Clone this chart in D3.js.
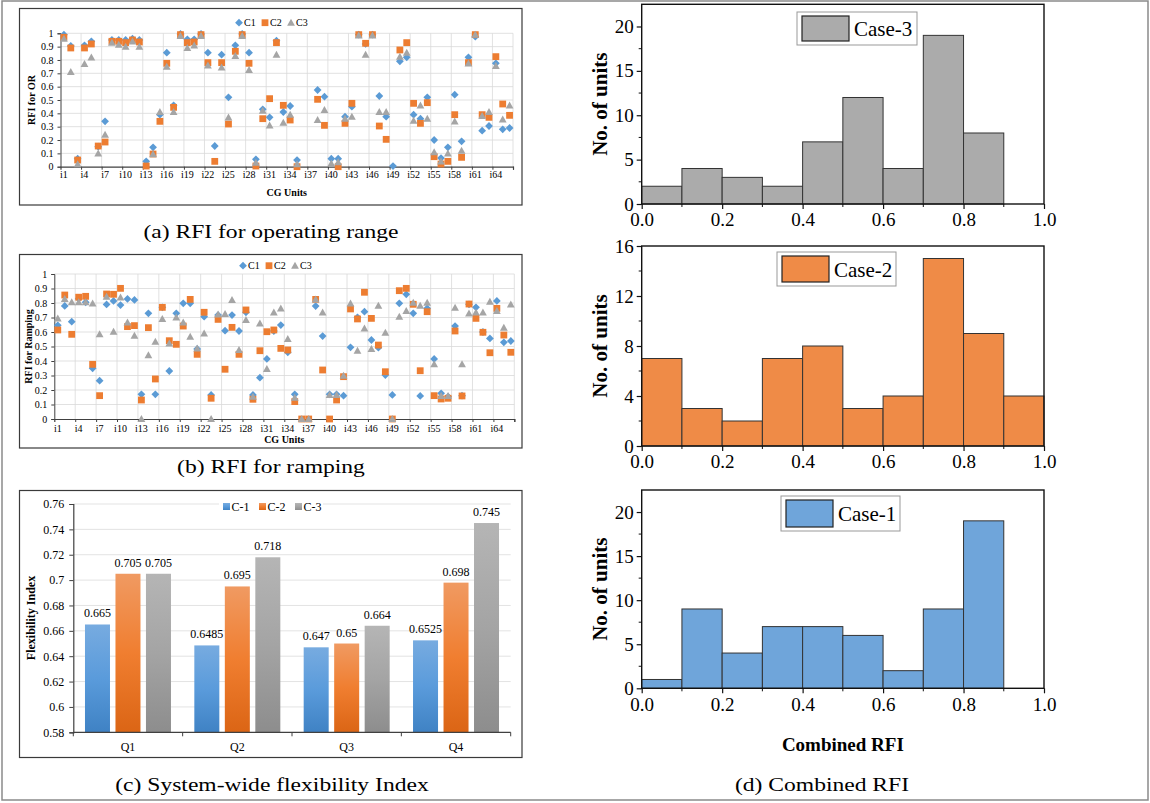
<!DOCTYPE html>
<html>
<head>
<meta charset="UTF-8">
<script src="https://d3js.org/d3.v7.min.js"></script>
<style>
    body { margin: 0; background: #fff; }
    text { font-family: "Liberation Serif", "Times New Roman", serif; fill: #000; }
</style>
</head>
<body>
<svg id="chart" width="1150" height="803"></svg>
<script>
// ---------- data ----------
const units = d3.range(1, 67).map(i => "i" + i);

// (a) RFI for operating range
const orC1 = [0.99,0.905,0.06,0.91,0.94,0.15,0.34,0.95,0.95,0.95,0.96,0.95,0.04,0.145,0.39,0.855,0.46,0.995,0.955,0.955,
    0.995,0.855,0.155,0.84,0.52,0.91,0.995,0.855,0.055,0.43,0.37,0.945,0.41,0.455,0.05,null,null,0.575,0.525,0.06,
    0.06,0.375,0.45,0.99,0.92,0.99,0.53,0.375,0.005,0.79,0.82,0.39,0.36,0.52,0.2,0.065,0.145,0.54,0.19,0.82,
    0.975,0.27,0.305,0.775,0.28,0.29];
const orC2 = [0.97,0.89,0.05,0.89,0.92,0.155,0.185,0.94,0.94,0.93,0.95,0.935,0.005,0.095,0.34,0.775,0.445,0.99,0.93,0.935,
    0.99,0.78,0.04,0.78,0.32,0.865,0.99,0.775,0.005,0.36,0.51,0.93,0.46,0.35,0.0,null,null,0.505,0.31,null,
    0.0,0.325,0.475,0.99,0.925,0.99,0.305,0.205,null,0.875,0.93,0.475,0.325,0.48,0.075,0.02,0.04,0.39,0.07,0.78,
    0.99,0.39,0.37,0.825,0.47,0.385];
const orC3 = [0.96,0.71,0.02,0.77,0.82,0.10,0.24,0.93,0.915,0.90,0.94,0.90,null,0.095,0.41,0.75,0.41,0.98,0.89,0.91,
    0.98,0.76,null,0.745,0.37,0.83,0.98,0.725,0.03,0.42,0.31,0.84,0.33,0.39,0.02,null,null,0.35,0.425,0.025,
    0.035,0.36,0.375,0.985,0.84,0.985,0.41,0.41,null,0.825,0.855,0.345,0.46,0.36,0.11,0.04,0.10,0.34,0.12,0.775,
    0.99,0.38,0.41,0.755,0.355,0.46];

// (b) RFI for ramping
const rpC1 = [0.646,0.78,0.671,0.83,0.805,0.35,0.264,0.79,0.814,0.786,0.828,0.821,0.17,0.729,0.17,0.77,0.331,0.729,0.798,0.798,
    0.483,0.706,0.166,0.717,0.609,0.717,0.607,0.736,0.166,0.285,0.414,0.607,0.648,0.46,0.17,null,null,0.779,0.572,0.17,
    0.17,0.161,0.494,0.701,0.74,0.545,0.492,0.303,0.166,0.798,0.86,0.729,0.159,0.763,0.414,0.177,0.154,0.641,0.161,0.791,
    0.77,0.6,0.556,0.814,0.529,0.538];
const rpC2 = [0.614,0.855,0.584,0.84,0.846,0.377,0.161,0.862,0.86,0.901,0.637,0.644,0.131,0.63,0.276,0.77,0.54,0.515,0.641,0.825,
    0.446,0.736,0.143,0.687,0.343,0.632,0.446,0.752,0.136,0.471,0.602,0.614,0.487,0.476,0.12,0,0,0.825,0.338,0,
    0.131,0.292,0.759,0.69,0.874,0.694,0.51,0.326,0,0.885,0.901,0.791,0.333,0.74,0.161,0.138,0.143,0.607,0.159,0.793,
    0.694,0.598,0.457,0.763,0.579,0.46];
const rpC3 = [0.694,0.828,0.805,0.805,0.805,0.798,0.586,0.844,0.602,0.839,0.667,0.575,0,0.441,0.533,0.69,0.522,0.701,0.667,0.568,
    0.487,0.591,0,0.722,0.724,0.821,0.476,0.683,0.154,0.66,0.345,0.736,0.763,0.552,0.147,0,0,0.825,0.736,0.166,
    0.166,0.299,0.798,0.471,0.625,0.483,0.782,0.595,0,0.706,0.745,0.802,0.782,0.802,0.379,0.159,0.159,0.768,0.379,0.729,
    0.736,0.736,0.809,0.745,0.63,0.791];

// (c) system-wide flexibility index
const quarters = ["Q1", "Q2", "Q3", "Q4"];
const fiCases = ["C-1", "C-2", "C-3"];
const fiC1 = [0.665, 0.6485, 0.647, 0.6525];
const fiC2 = [0.705, 0.695, 0.65, 0.698];
const fiC3 = [0.705, 0.718, 0.664, 0.745];
const fiTicks = [0.58, 0.6, 0.62, 0.64, 0.66, 0.68, 0.7, 0.72, 0.74, 0.76];

// (d) combined RFI histograms
const binEdges = [0, 0.1, 0.2, 0.3, 0.4, 0.5, 0.6, 0.7, 0.8, 0.9, 1.0];
const case3Counts = [2, 4, 3, 2, 7, 12, 4, 19, 8, 0];
const case2Counts = [7, 3, 2, 7, 8, 3, 4, 15, 9, 4];
const case1Counts = [1, 9, 4, 7, 7, 6, 2, 9, 19, 0];
const histXTicks = [0, 0.2, 0.4, 0.6, 0.8, 1.0];

const blue = "#5b9bd5", orange = "#ed7d31", gray = "#a5a5a5";

const svg = d3.select("#chart");
const defs = svg.append("defs");

// outer border of figure
svg.append("rect").attr("x", 2).attr("y", 1).attr("width", 1146).attr("height", 799)
    .attr("fill", "none").attr("stroke", "#8a8a8a").attr("stroke-width", 1.5);

// ---------- scatter panels (a) and (b) ----------
function markerPath(kind) {
    if (kind === "diamond") return "M0,-3.9L3.9,0L0,3.9L-3.9,0Z";
    if (kind === "square") return "M-3.4,-3.4H3.4V3.4H-3.4Z";
    return "M0,-3.9L3.9,3.1L-3.9,3.1Z";
}

function scatterPanel(cfg) {
    const g = svg.append("g");
    g.append("rect").attr("x", cfg.frame[0]).attr("y", cfg.frame[1])
        .attr("width", cfg.frame[2] - cfg.frame[0]).attr("height", cfg.frame[3] - cfg.frame[1])
        .attr("fill", "#fff").attr("stroke", "#3a3a3a").attr("stroke-width", 1.2);

    const x = d3.scaleLinear().domain([0.5, units.length + 0.5]).range([cfg.left, cfg.right]);
    const y = d3.scaleLinear().domain([0, 1]).range([cfg.bottom, cfg.top]);
    const yTicks = d3.range(11).map(i => i / 10);
    const gridX = d3.range(3.5, units.length + 0.6, 3);

    // gridlines
    g.append("g").selectAll("line").data(yTicks.slice(1)).join("line")
        .attr("x1", cfg.left).attr("x2", cfg.right)
        .attr("y1", d => y(d)).attr("y2", d => y(d))
        .attr("stroke", "#d9d9d9").attr("stroke-width", 0.8);
    g.append("g").selectAll("line").data(gridX).join("line")
        .attr("x1", d => x(d)).attr("x2", d => x(d))
        .attr("y1", cfg.top).attr("y2", cfg.bottom)
        .attr("stroke", "#d9d9d9").attr("stroke-width", 0.8);

    // y axis
    const ya = g.append("g").attr("transform", `translate(${cfg.left},0)`)
        .call(d3.axisLeft(y).tickValues(yTicks).tickSize(3).tickPadding(4).tickFormat(d3.format(".1~f")));
    ya.select(".domain").attr("stroke", "#404040");
    ya.selectAll("line").attr("stroke", "#404040");
    ya.selectAll("text").style("font-size", "10px").style("font-family", "Liberation Serif");

    // x axis (ticks on group boundaries, labels every 3rd unit)
    const xa = g.append("g").attr("transform", `translate(0,${cfg.bottom})`)
        .call(d3.axisBottom(x).tickValues(gridX).tickSize(3).tickFormat(""));
    xa.select(".domain").attr("stroke", "#404040").attr("stroke-width", 1.2);
    xa.selectAll("line").attr("stroke", "#404040");
    g.append("g").selectAll("text").data(d3.range(1, units.length + 1, 3)).join("text")
        .attr("x", d => x(d)).attr("y", cfg.bottom + cfg.tickLabOff)
        .attr("text-anchor", "middle").style("font-size", "10px")
        .text(d => units[d - 1]);

    // markers
    const series = [
        { name: "C1", vals: cfg.s1, color: blue, kind: "diamond" },
        { name: "C2", vals: cfg.s2, color: orange, kind: "square" },
        { name: "C3", vals: cfg.s3, color: gray, kind: "triangle" }
    ];
    series.forEach(s => {
        g.append("g").selectAll("path")
            .data(s.vals.map((v, i) => ({ i: i + 1, v })).filter(d => d.v !== null))
            .join("path")
            .attr("d", markerPath(s.kind))
            .attr("transform", d => `translate(${x(d.i)},${y(d.v)})`)
            .attr("fill", s.color);
    });

    // legend
    const lg = g.append("g").attr("transform", `translate(${cfg.legendX},${cfg.legendY})`);
    series.forEach((s, k) => {
        const it = lg.append("g").attr("transform", `translate(${k * 26},0)`);
        it.append("path").attr("d", markerPath(s.kind)).attr("fill", s.color);
        it.append("text").attr("x", 5).attr("y", 3.5).style("font-size", "10px").text(s.name);
    });

    // axis titles
    g.append("text")
        .attr("transform", `translate(${cfg.ylabX},${(cfg.top + cfg.bottom) / 2}) rotate(-90)`)
        .attr("text-anchor", "middle").style("font-size", "10px").style("font-weight", "bold")
        .text(cfg.ylabel);
    g.append("text").attr("x", (cfg.left + cfg.right) / 2).attr("y", cfg.bottom + cfg.titleOff)
        .attr("text-anchor", "middle").style("font-size", "10px").style("font-weight", "bold")
        .text("CG Units");
}

scatterPanel({
    frame: [19.5, 8.5, 522, 205], left: 60.5, right: 513, top: 33.3, bottom: 166.7,
    s1: orC1, s2: orC2, s3: orC3, legendX: 239, legendY: 22.7, ylabX: 35, ylabel: "RFI for OR",
    tickLabOff: 11.5, titleOff: 29
});
scatterPanel({
    frame: [19.5, 254.5, 522, 448], left: 54.3, right: 514.3, top: 274, bottom: 419,
    s1: rpC1, s2: rpC2, s3: rpC3, legendX: 243, legendY: 265.7, ylabX: 32, ylabel: "RFI for Ramping",
    tickLabOff: 12.5, titleOff: 23.5
});

// ---------- panel (c) grouped bars ----------
function grad(id, c0, c1, c2) {
    const lgd = defs.append("linearGradient").attr("id", id)
        .attr("x1", 0).attr("y1", 0).attr("x2", 0).attr("y2", 1);
    lgd.append("stop").attr("offset", "0%").attr("stop-color", c0);
    lgd.append("stop").attr("offset", "50%").attr("stop-color", c1);
    lgd.append("stop").attr("offset", "100%").attr("stop-color", c2);
}
grad("gBlue", "#77abe0", "#5a9bdb", "#3f82c4");
grad("gOrange", "#f09a62", "#f07e30", "#db6515");
grad("gGray", "#b5b5b5", "#a4a4a4", "#8d8d8d");
const fiFill = { "C-1": "url(#gBlue)", "C-2": "url(#gOrange)", "C-3": "url(#gGray)" };

(function () {
    const g = svg.append("g");
    g.append("rect").attr("x", 19.5).attr("y", 490.5).attr("width", 502.5).attr("height", 267)
        .attr("fill", "#fff").attr("stroke", "#3a3a3a").attr("stroke-width", 1.2);

    const left = 73.3, right = 510.7;
    const y = d3.scaleLinear().domain([0.58, 0.76]).range([732.3, 504]);
    const x0 = d3.scaleBand().domain(quarters).range([left, right]).paddingInner(0.2136).paddingOuter(0.1068);
    const x1 = d3.scaleBand().domain(fiCases).range([0, x0.bandwidth()]).paddingInner(0.18);

    g.append("g").selectAll("line").data(fiTicks.slice(1)).join("line")
        .attr("x1", left).attr("x2", right).attr("y1", d => y(d)).attr("y2", d => y(d))
        .attr("stroke", "#e3e3e3").attr("stroke-width", 1);

    const ya = g.append("g").attr("transform", `translate(${left},0)`)
        .call(d3.axisLeft(y).tickValues(fiTicks).tickSize(4).tickPadding(5).tickFormat(d3.format(".2~f")));
    ya.select(".domain").attr("stroke", "#404040").attr("stroke-width", 1.2);
    ya.selectAll("line").attr("stroke", "#404040");
    ya.selectAll("text").style("font-size", "12px").style("font-family", "Liberation Serif");

    const rows = quarters.map((q, i) => ({ q, vals: [fiC1[i], fiC2[i], fiC3[i]] }));
    const grp = g.append("g").selectAll("g").data(rows).join("g")
        .attr("transform", d => `translate(${x0(d.q)},0)`);
    grp.selectAll("rect").data(d => d.vals.map((v, k) => ({ c: fiCases[k], v }))).join("rect")
        .attr("x", d => x1(d.c)).attr("width", x1.bandwidth())
        .attr("y", d => y(d.v)).attr("height", d => y(0.58) - y(d.v))
        .attr("fill", d => fiFill[d.c]);
    grp.selectAll("text").data(d => d.vals.map((v, k) => ({ c: fiCases[k], v }))).join("text")
        .attr("x", d => x1(d.c) + x1.bandwidth() / 2).attr("y", d => y(d.v) - 7)
        .attr("text-anchor", "middle").style("font-size", "12px")
        .text(d => String(d.v));

    // x axis with boundary ticks
    const xa = g.append("g").attr("transform", `translate(0,${y(0.58)})`);
    xa.append("line").attr("x1", left).attr("x2", right).attr("stroke", "#404040").attr("stroke-width", 1.2);
    const bounds = quarters.map(q => x0(q) - x0.step() * x0.paddingInner() / 2).concat([right]);
    bounds[0] = left;
    xa.selectAll("line.tk").data(bounds).join("line").attr("class", "tk")
        .attr("x1", d => d).attr("x2", d => d).attr("y1", 0).attr("y2", 4).attr("stroke", "#404040");
    xa.selectAll("text").data(quarters).join("text")
        .attr("x", d => x0(d) + x0.bandwidth() / 2).attr("y", 19)
        .attr("text-anchor", "middle").style("font-size", "12px").text(d => d);

    // legend
    const lg = g.append("g").attr("transform", "translate(221,500)");
    lg.append("rect").attr("x", -2).attr("y", 0).attr("width", 104).attr("height", 14).attr("fill", "#fff");
    fiCases.forEach((c, k) => {
        const it = lg.append("g").attr("transform", `translate(${k * 36},0)`);
        it.append("rect").attr("x", 2).attr("y", 3).attr("width", 7).attr("height", 7).attr("fill", fiFill[c]);
        it.append("text").attr("x", 10.5).attr("y", 11).style("font-size", "12px").text(c);
    });

    g.append("text").attr("transform", `translate(35,618) rotate(-90)`)
        .attr("text-anchor", "middle").style("font-size", "12px").style("font-weight", "bold")
        .text("Flexibility Index");
})();

// ---------- panel (d) histograms ----------
const hx = d3.scaleLinear().domain([0, 1]).range([641.7, 1044]);

function histPanel(cfg) {
    const g = svg.append("g");
    const y = d3.scaleLinear().domain([0, cfg.yMax]).range([cfg.bottom, cfg.top]);

    g.append("g").selectAll("rect")
        .data(cfg.counts.map((c, i) => ({ x0: binEdges[i], x1: binEdges[i + 1], c })).filter(d => d.c > 0))
        .join("rect")
        .attr("x", d => hx(d.x0)).attr("width", d => hx(d.x1) - hx(d.x0))
        .attr("y", d => y(d.c)).attr("height", d => y(0) - y(d.c))
        .attr("fill", cfg.color).attr("stroke", "#333").attr("stroke-width", 1);

    // frame
    g.append("rect").attr("x", hx(0)).attr("y", cfg.top).attr("width", hx(1) - hx(0))
        .attr("height", cfg.bottom - cfg.top).attr("fill", "none").attr("stroke", "#111").attr("stroke-width", 1.4);

    // y axis major + minor
    const ya = g.append("g").attr("transform", `translate(${hx(0)},0)`)
        .call(d3.axisLeft(y).tickValues(cfg.yMajor).tickSize(5).tickPadding(3));
    ya.select(".domain").remove();
    ya.selectAll("line").attr("stroke", "#111").attr("stroke-width", 1.2);
    ya.selectAll("text").style("font-size", "19px").style("font-family", "Liberation Serif");
    g.append("g").selectAll("line").data(cfg.yMinor).join("line")
        .attr("x1", hx(0) - 3).attr("x2", hx(0)).attr("y1", d => y(d)).attr("y2", d => y(d))
        .attr("stroke", "#111");

    // x axis
    const xa = g.append("g").attr("transform", `translate(0,${cfg.bottom})`)
        .call(d3.axisBottom(hx).tickValues(histXTicks).tickSize(5).tickPadding(4).tickFormat(d3.format(".1f")));
    xa.select(".domain").remove();
    xa.selectAll("line").attr("stroke", "#111").attr("stroke-width", 1.2);
    xa.selectAll("text").style("font-size", "19px").style("font-family", "Liberation Serif");
    g.append("g").selectAll("line").data([0.1, 0.3, 0.5, 0.7, 0.9]).join("line")
        .attr("x1", d => hx(d)).attr("x2", d => hx(d)).attr("y1", cfg.bottom).attr("y2", cfg.bottom + 3)
        .attr("stroke", "#111");

    // legend
    const L = cfg.legend;
    g.append("rect").attr("x", L[0]).attr("y", L[1]).attr("width", L[2]).attr("height", L[3])
        .attr("fill", "#fff").attr("stroke", "#999").attr("stroke-width", 1);
    g.append("rect").attr("x", L[0] + 5).attr("y", L[1] + 4).attr("width", 47).attr("height", L[3] - 8)
        .attr("fill", cfg.color).attr("stroke", "#222").attr("stroke-width", 1.2);
    g.append("text").attr("x", L[0] + 57).attr("y", L[1] + L[3] / 2 + 7.5)
        .style("font-size", "21px").text(cfg.label);

    g.append("text")
        .attr("transform", `translate(607,${(cfg.top + cfg.bottom) / 2}) rotate(-90)`)
        .attr("text-anchor", "middle").style("font-size", "21px").style("font-weight", "bold")
        .text("No. of units");
}

histPanel({ counts: case3Counts, color: "#ababab", top: 4.3, bottom: 204, yMax: 22.5,
    yMajor: [0, 5, 10, 15, 20], yMinor: [2.5, 7.5, 12.5, 17.5], label: "Case-3", legend: [797, 12, 120, 33] });
histPanel({ counts: case2Counts, color: "#ef8b47", top: 246, bottom: 446, yMax: 16,
    yMajor: [0, 4, 8, 12, 16], yMinor: [2, 6, 10, 14], label: "Case-2", legend: [777, 252, 119, 34] });
histPanel({ counts: case1Counts, color: "#6fa5da", top: 490, bottom: 688.3, yMax: 22.5,
    yMajor: [0, 5, 10, 15, 20], yMinor: [2.5, 7.5, 12.5, 17.5], label: "Case-1", legend: [781, 496, 119, 35] });

svg.append("text").attr("x", hx(0.5)).attr("y", 751).attr("text-anchor", "middle")
    .style("font-size", "19px").style("font-weight", "bold").text("Combined RFI");

// ---------- captions ----------
const captions = [
    { t: "(a) RFI for operating range", x: 271, y: 238 },
    { t: "(b) RFI for ramping", x: 271, y: 473 },
    { t: "(c) System-wide flexibility Index", x: 272, y: 791 },
    { t: "(d) Combined RFI", x: 822, y: 791 }
];
svg.append("g").selectAll("text").data(captions).join("text")
    .attr("x", d => d.x).attr("y", d => d.y).attr("text-anchor", "middle")
    .style("font-size", "19px").style("font-weight", "300")
    .text(d => d.t)
    .each(function () {
        const w = this.getComputedTextLength();
        d3.select(this).attr("textLength", w * 1.24).attr("lengthAdjust", "spacingAndGlyphs");
    });
</script>
</body>
</html>
